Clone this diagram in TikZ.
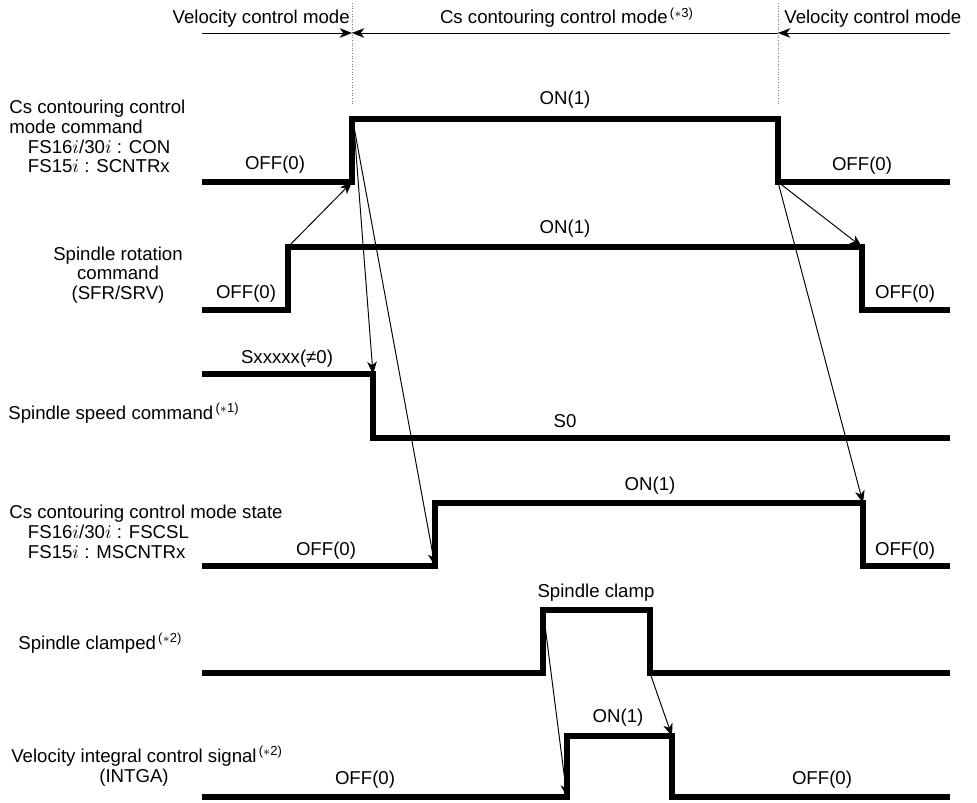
\documentclass[tikz,border=0pt]{standalone}
\usepackage{fontspec}
\setmainfont{Liberation Sans}
\usetikzlibrary{arrows.meta}

\newcommand\starnote[1]{\textsuperscript{\,($\ast$#1)}}

\begin{document}
\begin{tikzpicture}%
  [x=0.02cm,y=-0.02cm,
   signal/.style={line width=2.9pt,line join=miter},
   cause/.style={line width=0.55pt,-{Stealth[length=7pt,width=5.5pt,inset=2pt]}},
   span/.style={line width=0.55pt,-{Stealth[length=7pt,width=5.5pt,inset=2pt]}},
   border/.style={densely dotted,gray,line width=0.5pt},
   level/.style={font=\fontsize{10.6}{12}\selectfont,inner sep=0pt},
   caption/.style={font=\fontsize{10.6}{11.2}\selectfont,inner sep=0pt}
  ]
  \useasboundingbox (0,0) rectangle (977,803);

  % mode boundaries
  \coordinate (bl) at (352,3);
  \coordinate (br) at (778,3);
  \draw[border] (bl) -- (352,105);
  \draw[border] (br) -- (778,105);
  \coordinate (ml) at (202,33);
  \coordinate (mr) at (950,33);
  \draw[span] (ml) -- (bl|-ml);
  \draw[span,{Stealth[length=7pt,width=5.5pt,inset=2pt]}-] (bl|-ml) -- (br|-ml);
  \draw[span] (mr) -- (br|-mr);
  \node[level,anchor=base east] (vel1) at (350,24) {Velocity control mode};
  \node[level,anchor=base] (csmode) at (567,24) {Cs contouring control mode\starnote{3}};
  \node[level,anchor=base west] (vel2) at (784,24) {Velocity control mode};

  % signal captions
  \node[caption,align=left,anchor=north west] (lcon) at (9,100)
    {Cs contouring control\\mode command\\\hspace*{1em}FS16$i$/30$i$ : CON\\\hspace*{1em}FS15$i$ : SCNTRx};
  \node[caption,align=center] (lsfr) at (118,275) {Spindle rotation\\command\\(SFR/SRV)};
  \node[caption,anchor=west] (lspd) at (8,413) {Spindle speed command\starnote{1}};
  \node[caption,align=left,anchor=north west] (lcsl) at (9,505)
    {Cs contouring control mode state\\\hspace*{1em}FS16$i$/30$i$ : FSCSL\\\hspace*{1em}FS15$i$ : MSCNTRx};
  \node[caption,anchor=west] (lclp) at (18,643) {Spindle clamped\starnote{2}};
  \node[caption,align=center] (lint) at (134,766)
    {Velocity integral control signal\rlap{\starnote{2}}\\(INTGA)};

  % CON
  \coordinate (conlo) at (352,182);
  \coordinate (conhi) at (352,119);
  \coordinate (confh) at (778,119);
  \coordinate (confl) at (778,182);
  \draw[signal] (202,182) -- (conlo) -- (conhi) -- (confh) -- (confl) -- (950,182);
  \node[level] (conon) at (565,100) {ON(1)};
  \node[level] (conoff1) at (275,165) {OFF(0)};
  \node[level] (conoff2) at (862,166) {OFF(0)};

  % SFR/SRV
  \coordinate (sfrlo) at (288,310);
  \coordinate (sfrhi) at (288,247);
  \coordinate (sfrfh) at (862,247);
  \coordinate (sfrfl) at (862,310);
  \draw[signal] (202,310) -- (sfrlo) -- (sfrhi) -- (sfrfh) -- (sfrfl) -- (950,310);
  \node[level] (sfron) at (565,229) {ON(1)};
  \node[level] (sfroff1) at (246,294) {OFF(0)};
  \node[level] (sfroff2) at (905,294) {OFF(0)};

  % spindle speed
  \coordinate (spdhi) at (373,374);
  \coordinate (spdlo) at (373,438);
  \draw[signal] (202,374) -- (spdhi) -- (spdlo) -- (950,438);
  \node[level] (spdx) at (287,359) {Sxxxxx(≠0)};
  \node[level] (spd0) at (565,421) {S0};

  % FSCSL
  \coordinate (csllo) at (435,566);
  \coordinate (cslhi) at (435,503);
  \coordinate (cslfh) at (863,503);
  \coordinate (cslfl) at (863,566);
  \draw[signal] (202,566) -- (csllo) -- (cslhi) -- (cslfh) -- (cslfl) -- (950,566);
  \node[level] (cslon) at (650,486) {ON(1)};
  \node[level] (csloff1) at (326,551) {OFF(0)};
  \node[level] (csloff2) at (905,551) {OFF(0)};

  % spindle clamp
  \coordinate (clplo) at (543,673);
  \coordinate (clphi) at (543,610);
  \coordinate (clpfh) at (650,610);
  \coordinate (clpfl) at (650,673);
  \draw[signal] (202,673) -- (clplo) -- (clphi) -- (clpfh) -- (clpfl) -- (950,673);
  \node[level] (clp) at (596,593) {Spindle clamp};

  % INTGA
  \coordinate (intlo) at (567,797);
  \coordinate (inthi) at (567,736);
  \coordinate (intfh) at (672,736);
  \coordinate (intfl) at (672,797);
  \draw[signal] (202,797) -- (intlo) -- (inthi) -- (intfh) -- (intfl) -- (950,797);
  \node[level] (inton) at (618,718) {ON(1)};
  \node[level] (intoff1) at (365,780) {OFF(0)};
  \node[level] (intoff2) at (822,780) {OFF(0)};

  % cause and effect
  \coordinate (conbr) at (354,127);
  \draw[cause] (sfrhi) -- (conlo);
  \draw[cause] (conbr) -- (spdhi);
  \draw[cause] (conbr) -- (csllo);
  \draw[cause] (confl) -- (sfrfh);
  \draw[cause] (confl) -- (cslfh);
  \draw[cause] (clphi) -- (intlo);
  \draw[cause] (clpfl) -- (intfh);
\end{tikzpicture}
\end{document}
